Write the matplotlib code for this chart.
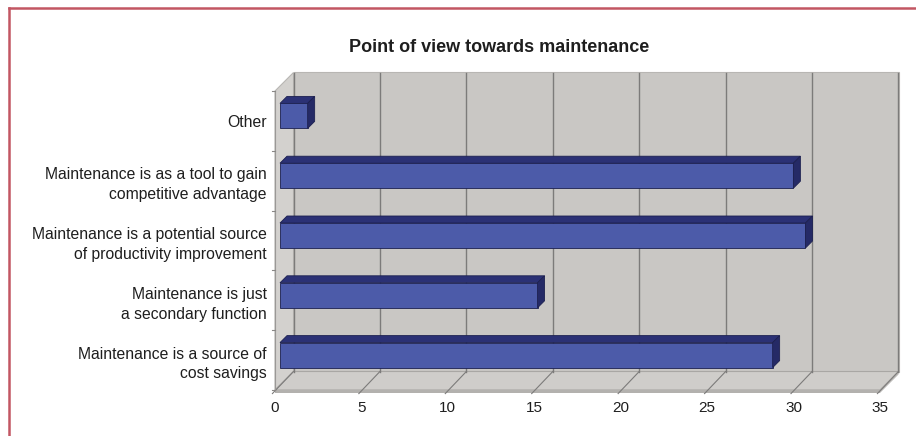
import matplotlib
matplotlib.use("Agg")
import matplotlib.pyplot as plt
from matplotlib.patches import Polygon, Rectangle
from matplotlib.lines import Line2D
import numpy as np

# ---- data ----
categories = [
    "Maintenance is a source of\ncost savings",
    "Maintenance is just\na secondary function",
    "Maintenance is a potential source\nof productivity improvement",
    "Maintenance is as a tool to gain\ncompetitive advantage",
    "Other",
]
values = [28.5, 14.9, 30.4, 29.7, 1.6]
x_ticks = [0, 5, 10, 15, 20, 25, 30, 35]
title = "Point of view towards maintenance"

# ---- styling ----
plt.rcParams["font.family"] = ["Liberation Sans", "DejaVu Sans"]
W, H, DPI = 916, 436, 100
wall_col = "#c9c7c4"
side_col = "#d3d1ce"
floor_col = "#cfcdca"
floor_edge = "#a9a7a4"
grid_col = "#7c7b7a"
bar_front = "#4c5ba9"
bar_top = "#2b3175"
bar_end = "#252a66"
bar_line = "#1c2050"
text_col = "#1e1e1e"

fig = plt.figure(figsize=(W / DPI, H / DPI), dpi=DPI)
fig.patch.set_facecolor("white")

# front plane of the 3-D box, in pixels
fx0, fx1, fy_top, fy_bot = 275, 880, 91, 390
ax = fig.add_axes([fx0 / W, (H - fy_bot) / H, (fx1 - fx0) / W, (fy_bot - fy_top) / H])
xmax = x_ticks[-1]
n = len(categories)
ax.set_xlim(0, xmax)
ax.set_ylim(-0.5, n - 0.5)
ax.set_facecolor("none")
for s in ax.spines.values():
    s.set_visible(False)

px_x = (fx1 - fx0) / xmax          # pixels per value unit
px_y = (fy_bot - fy_top) / n       # pixels per category


def dep(p):
    """Depth offset (pixels along the 45-degree receding axis) in data units."""
    return p / px_x, p / px_y


DEPTH = 18.5
ddx, ddy = dep(DEPTH)
y0, y1 = -0.5, n - 0.5

# back wall
ax.add_patch(Rectangle((ddx, y0 + ddy), xmax, y1 - y0, facecolor=wall_col,
                       edgecolor="#b8b6b3", lw=0.8, clip_on=False, zorder=1))
# left side wall
ax.add_patch(Polygon([(0, y0), (ddx, y0 + ddy), (ddx, y1 + ddy), (0, y1)],
                     closed=True, facecolor=side_col, edgecolor="#b8b6b3",
                     lw=0.8, clip_on=False, zorder=1))
# floor
ax.add_patch(Polygon([(0, y0), (xmax, y0), (xmax + ddx, y0 + ddy), (ddx, y0 + ddy)],
                     closed=True, facecolor=floor_col, edgecolor=floor_edge,
                     lw=0.8, clip_on=False, zorder=1))
fthick = 3 / px_y
ax.add_patch(Polygon([(0, y0 - fthick), (xmax, y0 - fthick), (xmax, y0), (0, y0)],
                     closed=True, facecolor="#b3b1ae", edgecolor="none",
                     clip_on=False, zorder=1))
ax.add_patch(Polygon([(xmax, y0 - fthick), (xmax + ddx, y0 + ddy - fthick),
                      (xmax + ddx, y0 + ddy), (xmax, y0)],
                     closed=True, facecolor="#bdbbb8", edgecolor="none",
                     clip_on=False, zorder=1))

# gridlines on the wall and floor
for t in x_ticks:
    ax.add_line(Line2D([t + ddx, t + ddx], [y0 + ddy, y1 + ddy], color=grid_col,
                       lw=1.0, clip_on=False, zorder=2))
    ax.add_line(Line2D([t - 0.15, t + ddx], [y0 - 0.06, y0 + ddy], color=grid_col,
                       lw=0.8, clip_on=False, zorder=2))

# left axis line with category-boundary ticks
ax.add_line(Line2D([0, 0], [y0, y1], color="#9a9896", lw=0.8, clip_on=False, zorder=2))
for b in np.arange(y0, y1 + 0.01, 1.0):
    ax.add_line(Line2D([-3 / px_x, 0], [b, b], color="#8a8886", lw=0.8,
                       clip_on=False, zorder=2))

# 3-D bars: front face, top face and end cap
BAR_H = 25 / px_y
d0x, d0y = dep(5)
d1x, d1y = dep(12)
ypos = np.arange(n)
ax.barh(ypos + d0y, values, left=d0x, height=BAR_H, color=bar_front,
        edgecolor=bar_line, lw=0.6, zorder=4)
for yi, v in zip(ypos, values):
    top = yi + d0y + BAR_H / 2
    bot = yi + d0y - BAR_H / 2
    ax.add_patch(Polygon([(d0x, top), (d0x + v, top), (d1x + v, top + d1y - d0y),
                          (d1x, top + d1y - d0y)], closed=True, facecolor=bar_top,
                         edgecolor=bar_line, lw=0.6, zorder=3))
    ax.add_patch(Polygon([(d0x + v, bot), (d1x + v, bot + d1y - d0y),
                          (d1x + v, top + d1y - d0y), (d0x + v, top)], closed=True,
                         facecolor=bar_end, edgecolor=bar_line, lw=0.6, zorder=5))

# axis labels
ax.set_xticks(x_ticks)
ax.set_xticklabels([str(t) for t in x_ticks], fontsize=11, color=text_col)
ax.tick_params(axis="x", length=0, pad=8)
ax.set_yticks(ypos)
ax.set_yticklabels(categories, fontsize=11.3, color=text_col, linespacing=1.4)
ax.tick_params(axis="y", length=0, pad=6)

# title
fig.text(499 / W, 1 - 47 / H, title, ha="center", va="center",
         fontsize=13, fontweight="bold", color=text_col)

# frame lines
fig.add_artist(Line2D([9 / W, 1], [1 - 8 / H, 1 - 8 / H], transform=fig.transFigure,
                      color="#c25663", lw=1.8))
fig.add_artist(Line2D([9 / W, 9 / W], [0, 1 - 8 / H], transform=fig.transFigure,
                      color="#c25663", lw=1.8))

fig.savefig("out.png", dpi=DPI)
